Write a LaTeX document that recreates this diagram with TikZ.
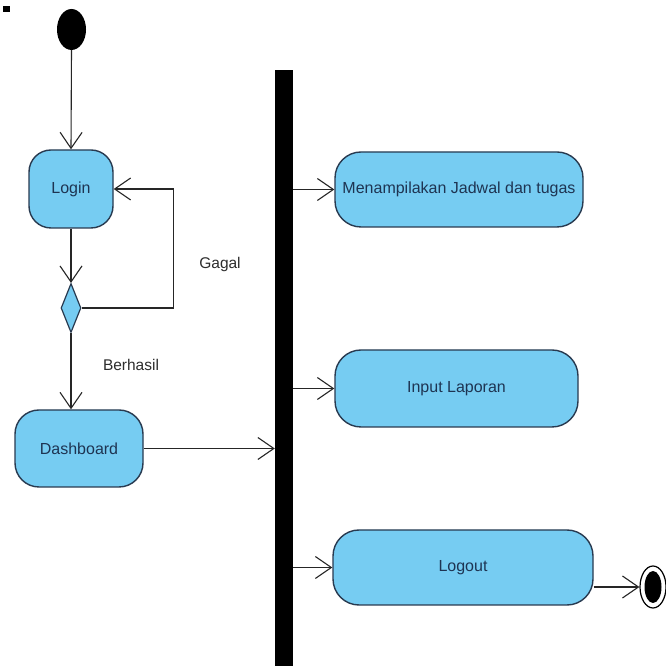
\documentclass[tikz,border=0pt]{standalone}
\usepackage{fontspec}
\setmainfont{Liberation Sans}
\usetikzlibrary{shapes.geometric,arrows.meta,calc}
\definecolor{actfill}{RGB}{118,204,242}
\definecolor{actline}{RGB}{40,58,80}
\definecolor{acttext}{RGB}{30,52,82}
\definecolor{lbltext}{RGB}{45,45,45}
\tikzset{
  x=1pt, y=1pt,
  action/.style={draw=actline, line width=1.4pt, fill=actfill, rounded corners=24pt,
    text=acttext, font=\fontsize{16}{19}\selectfont, inner sep=0pt, align=center},
  flow/.style={draw=black!85, line width=1.1pt,
    -{Straight Barb[length=16pt,width=22pt,line width=1.1pt]}},
  guard/.style={text=lbltext, font=\fontsize{15.5}{18}\selectfont},
}
\begin{document}
\begin{tikzpicture}
\useasboundingbox (0,0) rectangle (665,668);
\fill[white] (0,0) rectangle (665,668);

% small mark in the corner
\fill[black] (3,656) rectangle (10,662);

% initial node
\node[ellipse, fill=black, minimum width=29pt, minimum height=41pt, inner sep=0pt] (start) at (71.5,638.5) {};

% actions on the left
\node[action, minimum width=84pt, minimum height=78pt, rounded corners=22pt] (login) at (71,479) {Login};
\node[diamond, draw=actline, line width=1.2pt, fill=actfill, minimum width=20pt, minimum height=49pt, inner sep=0pt, aspect=0.41] (dec) at (71,360) {};
\node[action, minimum width=128pt, minimum height=77pt] (dash) at (79,219.5) {Dashboard};

% fork bar
\node[rectangle, fill=black, minimum width=18pt, minimum height=596pt, inner sep=0pt] (bar) at (284,300) {};

% actions on the right
\node[action, minimum width=248pt, minimum height=75pt, rounded corners=26pt] (jadwal) at (459,478.5) {Menampilakan Jadwal dan tugas};
\node[action, minimum width=243pt, minimum height=77pt, rounded corners=26pt] (input) at (456.5,279.5) {Input Laporan};
\node[action, minimum width=260pt, minimum height=75pt, rounded corners=26pt] (logout) at (463,100.5) {Logout};

% final node
\node[ellipse, draw=black, line width=1.2pt, fill=white, minimum width=26pt, minimum height=42pt, inner sep=0pt] (final) at (653,81) {};
\node[ellipse, fill=black, minimum width=17pt, minimum height=32pt, inner sep=0pt] (finalin) at (final.center) {};

% flows
\draw[flow] (start.south) -- (login.north);
\draw[flow] (login.south) -- (dec.north);
\draw[flow] (dec.south) -- (dec.south |- dash.north);
\draw[flow] (dec.east) -- ++(92,0) |- (login.east);
\draw[flow] (dash.east) -- (dash.east -| bar.west);
\draw[flow] (bar.east |- jadwal.west) -- (jadwal.west);
\draw[flow] (bar.east |- input.west) -- (input.west);
\draw[flow] (bar.east |- logout.west) -- (logout.west);
\draw[flow] (logout.east |- final.west) -- (final.west);

% guards
\node[guard] (gagal) at (220,403) {Gagal};
\node[guard] (berhasil) at (131,303) {Berhasil};
\end{tikzpicture}
\end{document}
